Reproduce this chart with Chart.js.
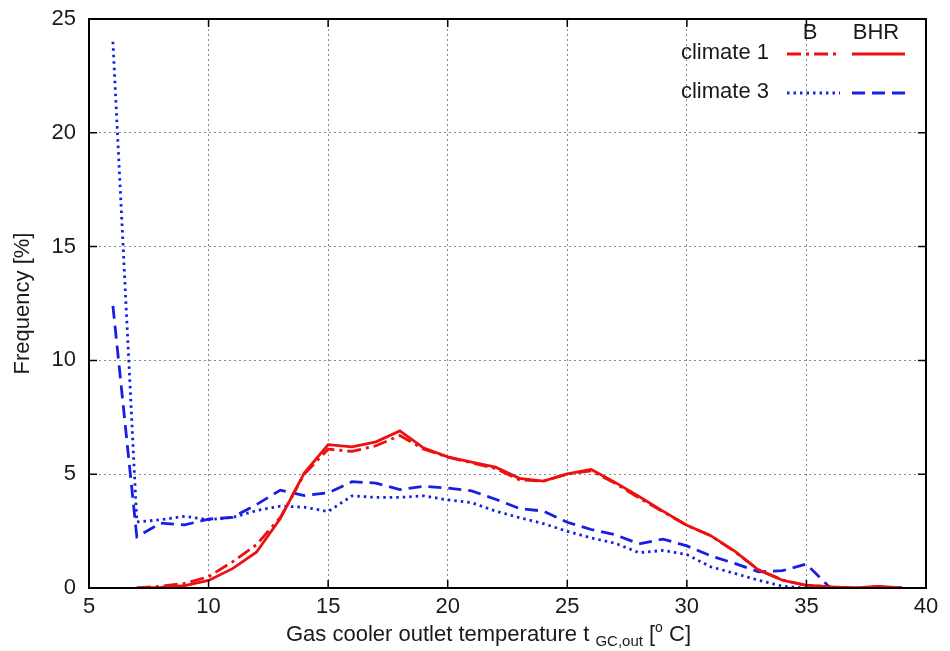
<!DOCTYPE html>
<html>
<head>
<meta charset="utf-8">
<script src="https://cdn.jsdelivr.net/npm/chart.js@4"></script>
<style>
  html, body { margin: 0; padding: 0; background: #fff; }
  canvas { display: block; }
</style>
</head>
<body>
<canvas id="freq-chart" width="950" height="651"></canvas>
<script>
// Gas cooler outlet temperature [°C]
const temperatures = [6, 7, 8, 9, 10, 11, 12, 13, 14, 15, 16, 17, 18, 19, 20, 21, 22,
  23, 24, 25, 26, 27, 28, 29, 30, 31, 32, 33, 34, 35, 36, 37, 38, 39];

// Frequency [%]
const climate1B = [null, 0.0, 0.08, 0.2, 0.5, 1.15, 1.9, 3.1, 5.0, 6.1, 6.0, 6.25, 6.7,
  6.1, 5.75, 5.5, 5.25, 4.75, 4.7, 5.0, 5.15, 4.6, 3.95, 3.35, 2.75, 2.3, 1.6, 0.8,
  0.35, 0.12, 0.05, 0.0, 0.06, 0.0];
const climate1BHR = [null, 0.0, 0.03, 0.1, 0.33, 0.85, 1.57, 3.05, 5.05, 6.3, 6.2, 6.42,
  6.9, 6.15, 5.76, 5.53, 5.31, 4.82, 4.7, 5.01, 5.21, 4.64, 4.02, 3.38, 2.76, 2.3, 1.62,
  0.79, 0.34, 0.12, 0.05, 0.0, 0.07, 0.0];
const climate3B = [24.0, 2.9, 3.0, 3.15, 3.0, 3.1, 3.4, 3.6, 3.55, 3.36, 4.05, 3.98, 3.98,
  4.05, 3.87, 3.75, 3.38, 3.09, 2.83, 2.49, 2.2, 1.97, 1.55, 1.65, 1.47, 0.93, 0.64, 0.34,
  0.08, 0.0, 0.0, null, null, null];
const climate3BHR = [12.4, 2.25, 2.85, 2.77, 3.03, 3.1, 3.66, 4.3, 4.06, 4.18, 4.67, 4.61,
  4.32, 4.47, 4.39, 4.27, 3.9, 3.49, 3.38, 2.89, 2.57, 2.34, 1.94, 2.15, 1.85, 1.41, 1.08,
  0.71, 0.76, 1.05, 0.0, null, null, null];

const xTicks = [5, 10, 15, 20, 25, 30, 35, 40];
const yTicks = [0, 5, 10, 15, 20, 25];
const legendRows = ['climate 1', 'climate 3'];
const legendCols = ['B', 'BHR'];

const RED = 'rgb(238, 16, 16)';
const BLUE = 'rgb(22, 32, 228)';
const FONT = "'Liberation Sans', Arial, sans-serif";
const TEXT = '#1a1a1a';

function toPoints(values) {
  return temperatures.map((t, i) => ({ x: t, y: values[i] }));
}

const datasets = [
  { label: 'climate 1 B', data: toPoints(climate1B), borderColor: RED, borderDash: [14, 5, 3, 5] },
  { label: 'climate 1 BHR', data: toPoints(climate1BHR), borderColor: RED, borderDash: [] },
  { label: 'climate 3 B', data: toPoints(climate3B), borderColor: BLUE, borderDash: [2.5, 4] },
  { label: 'climate 3 BHR', data: toPoints(climate3BHR), borderColor: BLUE, borderDash: [13, 7] }
].map(ds => Object.assign(ds, { borderWidth: 2.8, pointRadius: 0, fill: false, tension: 0, spanGaps: false }));

// frame, inward tick marks, axis titles and the two-column key
const decorations = {
  id: 'decorations',
  afterDatasetsDraw(chart) {
    const { ctx, chartArea: a, scales: { x, y } } = chart;
    ctx.save();
    ctx.strokeStyle = '#000';
    ctx.lineWidth = 2;
    ctx.setLineDash([]);
    ctx.strokeRect(a.left, a.top, a.right - a.left, a.bottom - a.top);

    ctx.lineWidth = 1.5;
    const tl = 8;
    ctx.beginPath();
    xTicks.forEach(v => {
      const px = x.getPixelForValue(v);
      ctx.moveTo(px, a.bottom); ctx.lineTo(px, a.bottom - tl);
      ctx.moveTo(px, a.top); ctx.lineTo(px, a.top + tl);
    });
    yTicks.forEach(v => {
      const py = y.getPixelForValue(v);
      ctx.moveTo(a.left, py); ctx.lineTo(a.left + tl, py);
      ctx.moveTo(a.right, py); ctx.lineTo(a.right - tl, py);
    });
    ctx.stroke();

    // y title
    ctx.fillStyle = TEXT;
    ctx.font = '22px ' + FONT;
    ctx.textAlign = 'center';
    ctx.textBaseline = 'middle';
    ctx.save();
    ctx.translate(23, (a.top + a.bottom) / 2);
    ctx.rotate(-Math.PI / 2);
    ctx.fillText('Frequency [%]', 0, 0);
    ctx.restore();

    // x title with subscript and superscript
    ctx.textAlign = 'left';
    ctx.textBaseline = 'alphabetic';
    const base = 641;
    const parts = [
      { t: 'Gas cooler outlet temperature t ', size: 22, dy: 0 },
      { t: 'GC,out', size: 15, dy: 5 },
      { t: ' [', size: 22, dy: 0 },
      { t: 'o', size: 14, dy: -9 },
      { t: ' C]', size: 22, dy: 0 }
    ];
    let cx = 286;
    parts.forEach(p => {
      ctx.font = p.size + 'px ' + FONT;
      ctx.fillText(p.t, cx, base + p.dy);
      cx += ctx.measureText(p.t).width;
    });

    // key
    ctx.font = '22px ' + FONT;
    ctx.textBaseline = 'middle';
    ctx.textAlign = 'center';
    ctx.fillText(legendCols[0], 810, 33);
    ctx.fillText(legendCols[1], 876, 33);
    ctx.textAlign = 'right';
    const rowY = [53, 92];
    legendRows.forEach((row, r) => {
      ctx.fillStyle = TEXT;
      ctx.fillText(row, 769, rowY[r]);
      [0, 1].forEach(c => {
        const ds = chart.data.datasets[r * 2 + c];
        const x0 = c === 0 ? 787 : 852;
        ctx.strokeStyle = ds.borderColor;
        ctx.lineWidth = ds.borderWidth;
        ctx.setLineDash(ds.borderDash);
        ctx.beginPath();
        ctx.moveTo(x0, rowY[r] + 1);
        ctx.lineTo(x0 + 53, rowY[r] + 1);
        ctx.stroke();
      });
    });
    ctx.restore();
  }
};

const gridOpts = {
  color: '#8a8a8a',
  lineWidth: 1,
  drawTicks: false
};

new Chart(document.getElementById('freq-chart').getContext('2d'), {
  type: 'line',
  data: { datasets: datasets },
  options: {
    responsive: false,
    animation: false,
    layout: { padding: { left: 0, right: 24, top: 19, bottom: 0 } },
    plugins: { legend: { display: false }, tooltip: { enabled: false } },
    scales: {
      x: {
        type: 'linear',
        min: 5,
        max: 40,
        afterFit: scale => {
          scale.height = 63;
          scale.paddingLeft = 0;
          scale.paddingRight = 0;
        },
        afterBuildTicks: scale => { scale.ticks = xTicks.map(v => ({ value: v })); },
        ticks: { padding: 6, color: TEXT, font: { family: FONT, size: 22 } },
        grid: gridOpts,
        border: { display: false, dash: [2, 3] }
      },
      y: {
        min: 0,
        max: 25,
        afterFit: scale => {
          scale.width = 89;
          scale.paddingTop = 0;
          scale.paddingBottom = 0;
        },
        afterBuildTicks: scale => { scale.ticks = yTicks.map(v => ({ value: v })); },
        ticks: { padding: 13, color: TEXT, font: { family: FONT, size: 22 } },
        grid: gridOpts,
        border: { display: false, dash: [2, 3] }
      }
    }
  },
  plugins: [decorations]
});
</script>
</body>
</html>
